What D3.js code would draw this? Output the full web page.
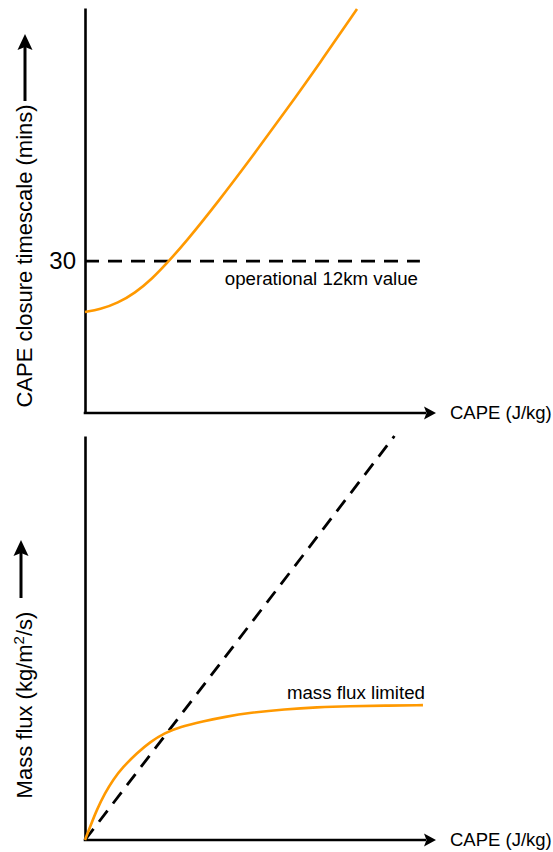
<!DOCTYPE html>
<html>
<head>
<meta charset="utf-8">
<script src="https://cdn.jsdelivr.net/npm/d3@7"></script>
<style>
  body { margin: 0; background: #fff; }
  svg { display: block; font-family: "Liberation Sans", Arial, sans-serif; }
</style>
</head>
<body>
<div id="chart"></div>
<script>
// values (arbitrary units, CAPE 0..100)
const capeTop = [0, 4.4, 9.7, 14.7, 19.7, 24.4, 29.4, 39.1, 49.1, 58.8, 69.1, 80];
const closureTimescale = [19.95, 20.44, 21.73, 23.7, 26.47, 29.83, 33.58, 41.68, 50.57, 59.46, 69.14, 79.8];
const operationalCape = [0, 98.5];
const operationalValue = [30, 30];
const timescaleTicks = [30];

const capeBottom = [0, 1.5, 3.4, 5.9, 8.2, 11.2, 15.3, 19.1, 23.5, 27.9, 34.7, 41.2, 48.5, 58.8, 68.2, 77.9, 88.2, 99.4];
const massFlux = [0, 2.6, 5.9, 9.3, 11.9, 14.5, 17.2, 19.4, 21.2, 22.4, 23.5, 24.4, 25.2, 25.9, 26.3, 26.5, 26.6, 26.7];
const unlimitedCape = [0, 91];
const unlimitedFlux = [0, 80];

const width = 553;
const height = 852;
const orange = "#ff9900";

const svg = d3.select("#chart").append("svg")
    .attr("width", width)
    .attr("height", height);

const defs = svg.append("defs");
defs.append("marker")
    .attr("id", "arrow")
    .attr("markerUnits", "userSpaceOnUse")
    .attr("markerWidth", 14)
    .attr("markerHeight", 14)
    .attr("viewBox", "0 -7 14 14")
    .attr("refX", 2)
    .attr("refY", 0)
    .attr("orient", "auto")
    .append("path")
    .attr("d", "M0,-6.5L12,0L0,6.5L2.5,0Z")
    .attr("fill", "#000");

const x = d3.scaleLinear().domain([0, 100]).range([85, 425]);

const line = (xs, ys, xScale, yScale, curve) => d3.line()
    .x(i => xScale(xs[i]))
    .y(i => yScale(ys[i]))
    .curve(curve)(d3.range(xs.length));

function drawPanel(yScale, opts) {
    const g = svg.append("g");

    // y axis (no arrow), with the single labelled value
    const yAxis = d3.axisLeft(yScale)
        .tickValues(opts.ticks)
        .tickSize(0)
        .tickSizeOuter(0)
        .tickPadding(9);
    const ya = g.append("g")
        .attr("transform", `translate(${x(0)},0)`)
        .call(yAxis);
    ya.select(".domain").attr("stroke", "#000").attr("stroke-width", 2.6);
    ya.selectAll(".tick text")
        .attr("font-size", 24)
        .attr("font-family", "Liberation Sans, Arial, sans-serif")
        .attr("fill", "#000");

    // x axis with arrow head
    g.append("line")
        .attr("x1", x(0) - 1.3)
        .attr("x2", x(100) + 1)
        .attr("y1", yScale(0))
        .attr("y2", yScale(0))
        .attr("stroke", "#000")
        .attr("stroke-width", 2.6)
        .attr("marker-end", "url(#arrow)");

    g.append("text")
        .attr("x", 450)
        .attr("y", yScale(0) + 6)
        .attr("font-size", 18.5)
        .text("CAPE (J/kg)");

    // dashed reference
    g.append("path")
        .attr("d", line(opts.dashX, opts.dashY, x, yScale, d3.curveLinear))
        .attr("fill", "none")
        .attr("stroke", "#000")
        .attr("stroke-width", 2.8)
        .attr("stroke-dasharray", "14,9");

    // orange curve
    g.append("path")
        .attr("d", line(opts.curveX, opts.curveY, x, yScale, d3.curveBasis))
        .attr("fill", "none")
        .attr("stroke", orange)
        .attr("stroke-width", 2.6);

    return g;
}

// top panel: CAPE closure timescale
const yTop = d3.scaleLinear().domain([0, 80]).range([413, 8]);
const topPanel = drawPanel(yTop, {
    ticks: timescaleTicks,
    dashX: operationalCape, dashY: operationalValue,
    curveX: capeTop, curveY: closureTimescale
});
topPanel.append("text")
    .attr("x", 418)
    .attr("y", yTop(30) + 24)
    .attr("text-anchor", "end")
    .attr("font-size", 18.7)
    .text("operational 12km value");

// bottom panel: mass flux
const yBottom = d3.scaleLinear().domain([0, 80]).range([840, 436]);
const bottomPanel = drawPanel(yBottom, {
    ticks: [],
    dashX: unlimitedCape, dashY: unlimitedFlux,
    curveX: capeBottom, curveY: massFlux
});
bottomPanel.append("text")
    .attr("x", 425)
    .attr("y", 699)
    .attr("text-anchor", "end")
    .attr("font-size", 18.7)
    .text("mass flux limited");

// rotated y labels with their arrows
function yLabel(cx, cy, arrowX, y0, y1, build) {
    const t = svg.append("text")
        .attr("transform", `translate(${cx},${cy}) rotate(-90)`)
        .attr("text-anchor", "middle")
        .attr("font-size", 22);
    build(t);
    svg.append("line")
        .attr("x1", arrowX).attr("x2", arrowX)
        .attr("y1", y0).attr("y2", y1 + 10)
        .attr("stroke", "#000")
        .attr("stroke-width", 3);
    svg.append("path")
        .attr("d", `M${arrowX},${y1}L${arrowX + 7.5},${y1 + 16}L${arrowX},${y1 + 13}L${arrowX - 7.5},${y1 + 16}Z`)
        .attr("fill", "#000");
}

yLabel(32, 256, 25, 101, 34, t => t.text("CAPE closure timescale (mins)"));
yLabel(32, 705, 21, 598, 540, t => {
    t.append("tspan").text("Mass flux (kg/m");
    t.append("tspan").attr("font-size", 15).attr("dy", -8).text("2");
    t.append("tspan").attr("dy", 8).text("/s)");
});
</script>
</body>
</html>
